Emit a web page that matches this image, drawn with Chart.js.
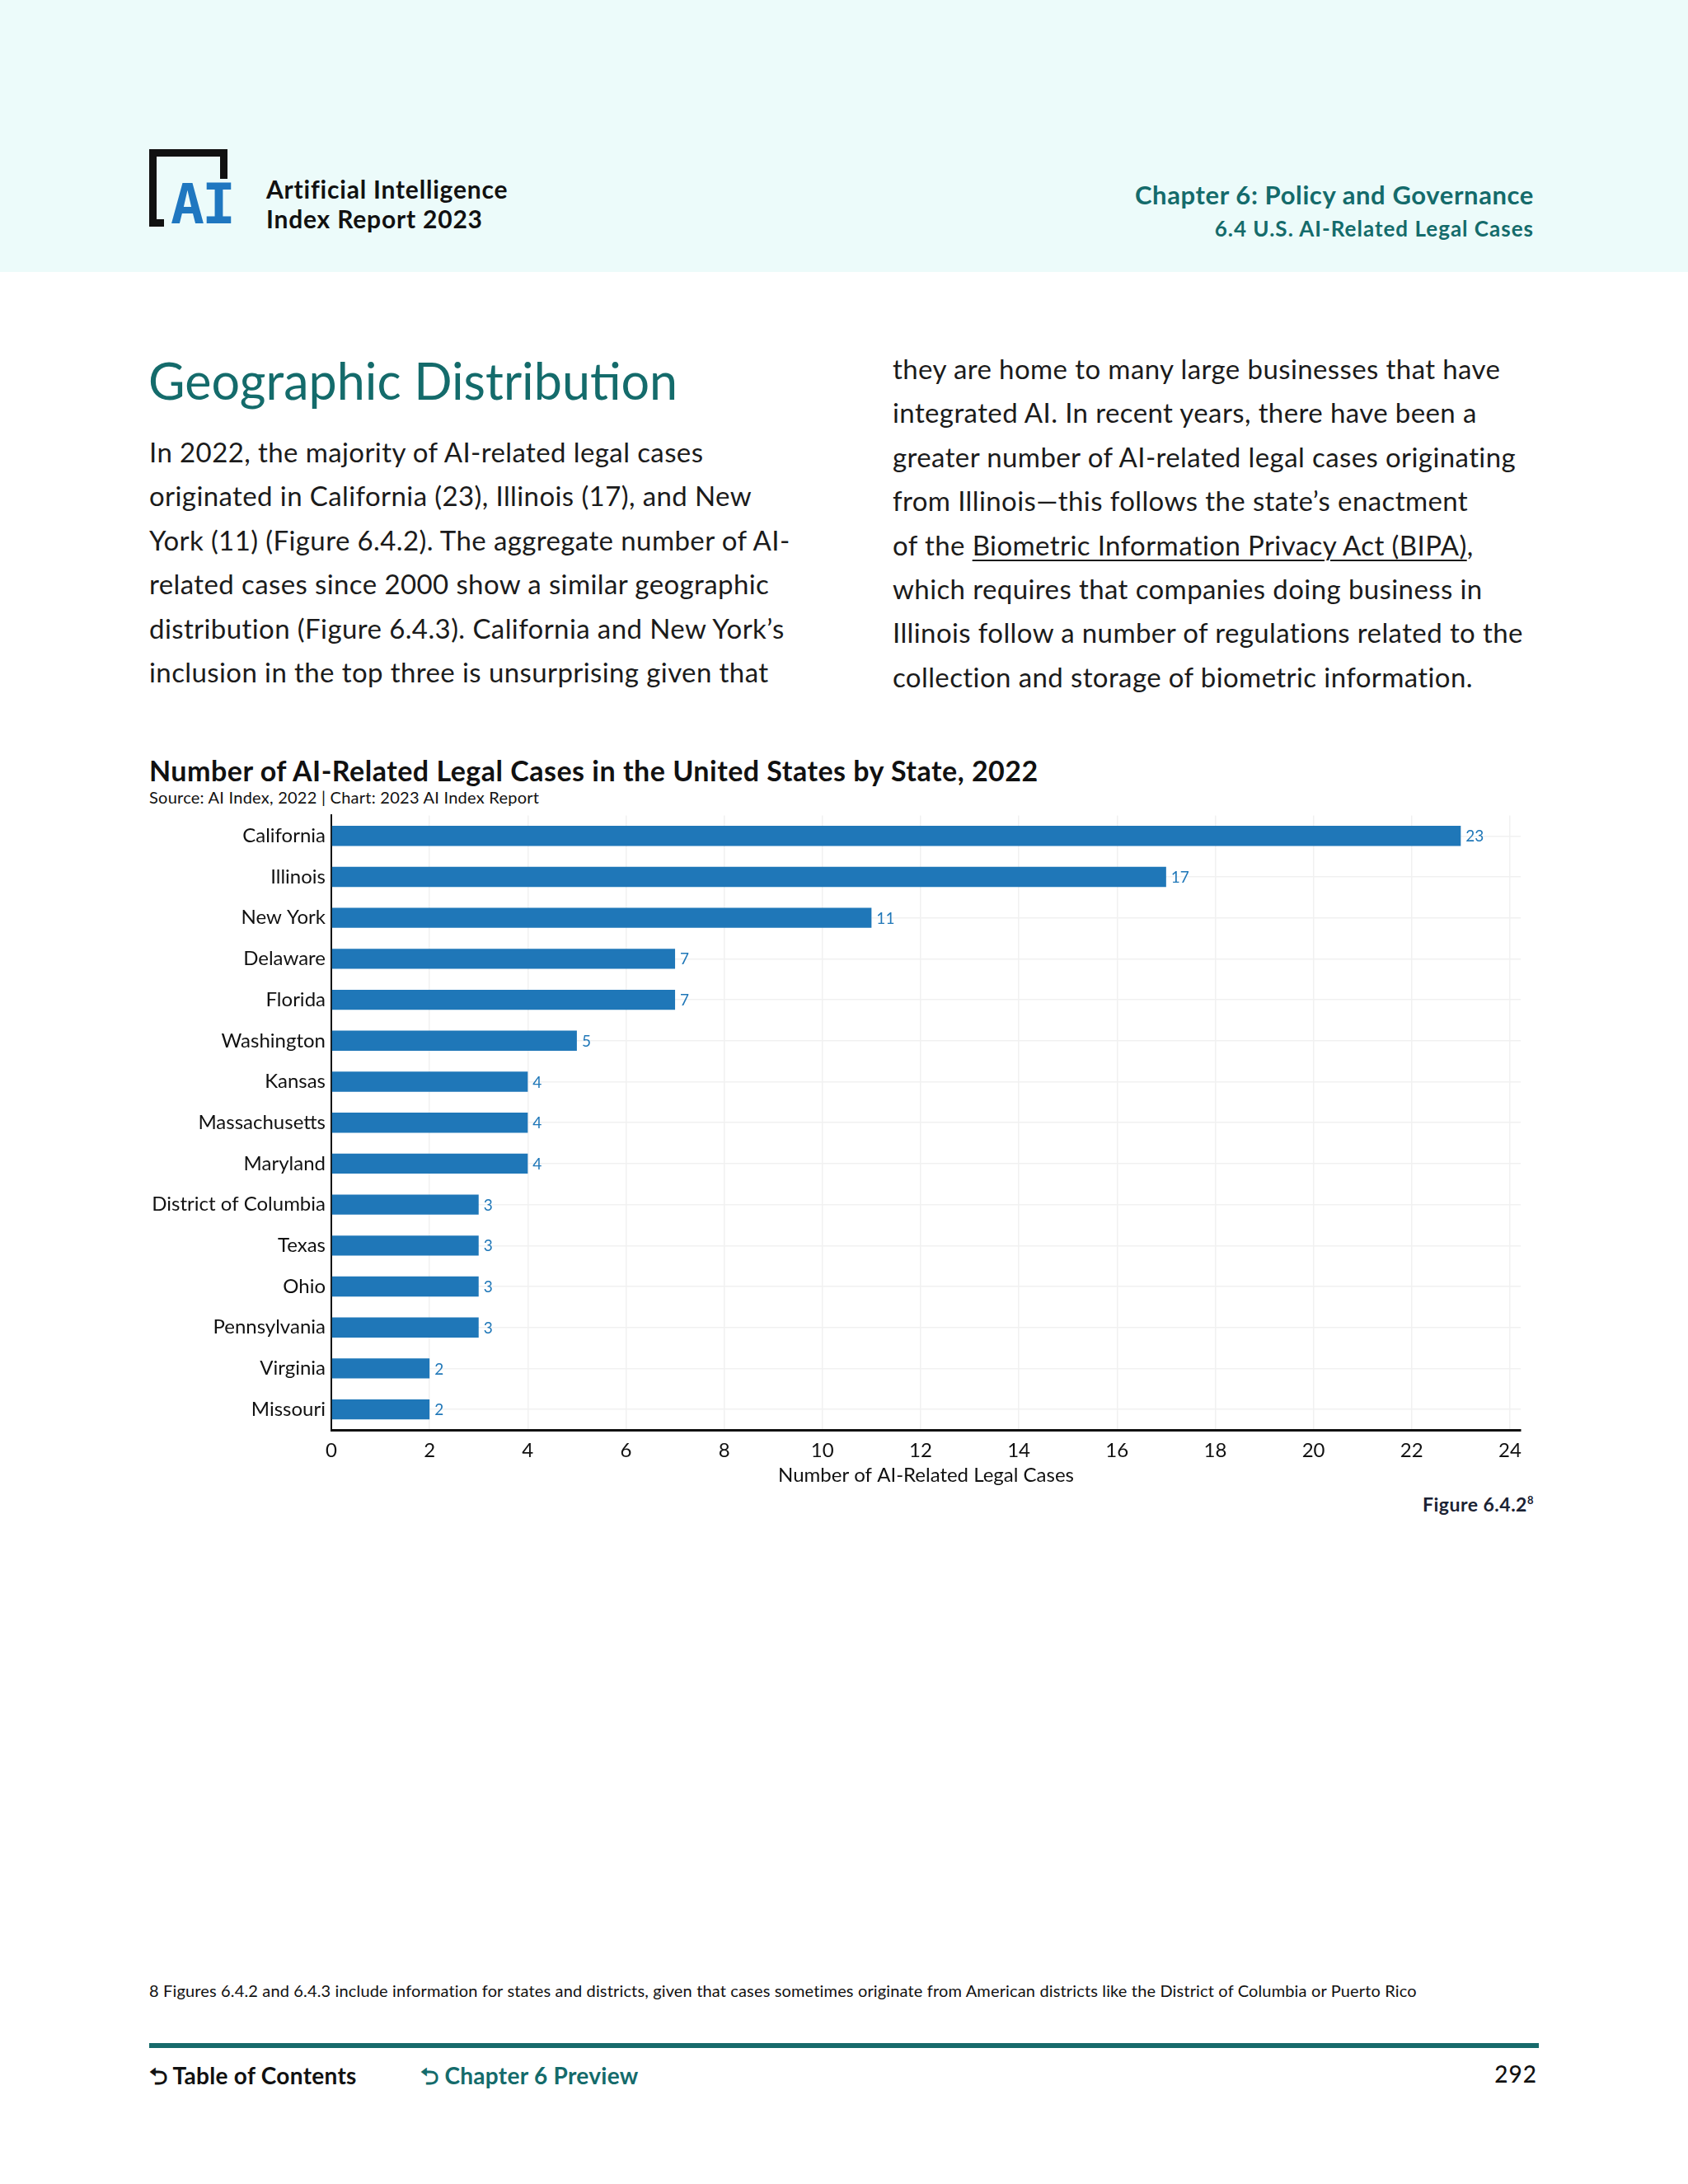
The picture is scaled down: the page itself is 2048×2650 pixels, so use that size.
<!DOCTYPE html>
<html>
<head>
    <title>AI-Related Legal Cases by State, 2022</title>
    <script src="https://cdn.jsdelivr.net/npm/chart.js"></script>
    <style>
        body {
            margin: 0;
            width: 2048px;
            height: 2650px;
            position: relative;
            background: #fff;
            font-family: 'Lato', sans-serif;
            color: #1b1b1b;
            overflow: hidden;
        }
        .band {
            position: absolute;
            left: 0; top: 0;
            width: 2048px; height: 330px;
            background: #ecfbfa;
        }
        .abs { position: absolute; white-space: nowrap; }
        .logo-bar { position: absolute; background: #111; }
        .brand { left: 323px; top: 211px; font-size: 30px; letter-spacing: 0.8px; font-weight: 700; line-height: 36px; color: #111; }
        .chap { right: 187px; top: 217px; font-size: 31px; letter-spacing: 0.6px; font-weight: 700; color: #146b6b; text-align: right; }
        .sub { right: 187px; top: 261px; font-size: 26px; letter-spacing: 1px; font-weight: 700; color: #146b6b; text-align: right; }
        .h1 { left: 180px; top: 425px; font-size: 61px; color: #146b6b; }
        .para { font-size: 33px; letter-spacing: 0.4px; line-height: 53.4px; color: #1b1b1b; }
        .para u { text-decoration-thickness: 2px; text-underline-offset: 5px; }
        .ctitle { left: 181px; top: 914px; font-size: 34px; letter-spacing: 0.5px; font-weight: 700; color: #111; }
        .csrc { left: 181px; top: 955px; font-size: 20px; letter-spacing: 0.25px; color: #111; }
        #wrap { position: absolute; left: 170px; top: 968px; width: 1690px; height: 837px; }
        .fig { right: 187px; top: 1811px; font-size: 23px; letter-spacing: 0.5px; font-weight: 700; color: #1a2233; }
        .fig sup { font-size: 13px; }
        .note { left: 181px; top: 2403px; font-size: 20px; letter-spacing: 0.15px; color: #111; }
        .rule { position: absolute; left: 181px; top: 2479px; width: 1686px; height: 6px; background: #176a6b; }
        .foot { top: 2499px; font-size: 28px; letter-spacing: 0.3px; font-weight: 700; }
    </style>
</head>
<body>
    <div class="band"></div>

    <!-- logo -->
    <div class="logo-bar" style="left:181px; top:181px; width:9px; height:94px;"></div>
    <div class="logo-bar" style="left:181px; top:181px; width:95px; height:9px;"></div>
    <div class="logo-bar" style="left:267px; top:181px; width:9px; height:36px;"></div>
    <div class="logo-bar" style="left:181px; top:266px; width:18px; height:9px;"></div>
    <div class="abs" style="left:207px; top:214px; font-family:'DejaVu Sans Mono', monospace; font-weight:700; font-size:68px; line-height:68px; color:#1f77c0; letter-spacing:-3px;">AI</div>

    <div class="abs brand">Artificial Intelligence<br>Index Report 2023</div>
    <div class="abs chap">Chapter 6: Policy and Governance</div>
    <div class="abs sub">6.4 U.S. AI-Related Legal Cases</div>

    <div class="abs h1">Geographic Distribution</div>
    <div class="abs para" style="left:181px; top:522px;">
        In 2022, the majority of AI-related legal cases<br>
        originated in California (23), Illinois (17), and New<br>
        York (11) (Figure 6.4.2). The aggregate number of AI-<br>
        related cases since 2000 show a similar geographic<br>
        distribution (Figure 6.4.3). California and New York’s<br>
        inclusion in the top three is unsurprising given that
    </div>
    <div class="abs para" style="left:1083px; top:421px;">
        they are home to many large businesses that have<br>
        integrated AI. In recent years, there have been a<br>
        greater number of AI-related legal cases originating<br>
        from Illinois—this follows the state’s enactment<br>
        of the <u>Biometric Information Privacy Act (BIPA)</u>,<br>
        which requires that companies doing business in<br>
        Illinois follow a number of regulations related to the<br>
        collection and storage of biometric information.
    </div>

    <div class="abs ctitle">Number of AI-Related Legal Cases in the United States by State, 2022</div>
    <div class="abs csrc">Source: AI Index, 2022 | Chart: 2023 AI Index Report</div>

    <div id="wrap"><canvas id="casesChart"></canvas></div>

    <div class="abs fig">Figure 6.4.2<sup>8</sup></div>

    <div class="abs note">8 Figures 6.4.2 and 6.4.3 include information for states and districts, given that cases sometimes originate from American districts like the District of Columbia or Puerto Rico</div>
    <div class="rule"></div>
    <div class="abs foot" style="left:181px; color:#111;">&#x2B8C; Table of Contents</div>
    <div class="abs foot" style="left:510px; color:#146b6b;">&#x2B8C; Chapter 6 Preview</div>
    <div class="abs foot" style="right:183px; font-weight:500; letter-spacing:1px; color:#111;">292</div>

    <script>
        // data
        const states = ['California', 'Illinois', 'New York', 'Delaware', 'Florida', 'Washington', 'Kansas',
            'Massachusetts', 'Maryland', 'District of Columbia', 'Texas', 'Ohio', 'Pennsylvania', 'Virginia', 'Missouri'];
        const cases = [23, 17, 11, 7, 7, 5, 4, 4, 4, 3, 3, 3, 3, 2, 2];
        const xTicks = [0, 2, 4, 6, 8, 10, 12, 14, 16, 18, 20, 22, 24];

        const barBlue = '#1f77b8';
        const labelFont = { family: 'Lato', size: 24 };

        // value labels at the end of each bar
        const valueLabels = {
            id: 'valueLabels',
            afterDatasetsDraw(chart) {
                const ctx = chart.ctx;
                const meta = chart.getDatasetMeta(0);
                ctx.save();
                ctx.fillStyle = barBlue;
                ctx.font = '19px Lato';
                ctx.textBaseline = 'middle';
                meta.data.forEach((bar, i) => {
                    ctx.fillText(cases[i], bar.x + 6, bar.y + 1);
                });
                ctx.restore();
            }
        };

        new Chart(document.getElementById('casesChart'), {
            type: 'bar',
            data: {
                labels: states,
                datasets: [{
                    data: cases,
                    backgroundColor: barBlue,
                    categoryPercentage: 1,
                    barPercentage: 0.49
                }]
            },
            plugins: [valueLabels],
            options: {
                indexAxis: 'y',
                responsive: true,
                maintainAspectRatio: false,
                animation: false,
                layout: { padding: { top: 5, right: 15, left: 0, bottom: 0 } },
                plugins: {
                    legend: { display: false },
                    tooltip: { enabled: false }
                },
                scales: {
                    x: {
                        min: 0,
                        max: 24.22,
                        afterBuildTicks(scale) {
                            scale.ticks = xTicks.map(v => ({ value: v }));
                        },
                        ticks: { color: '#111', font: labelFont, padding: 11 },
                        grid: { color: '#f1f1f1', lineWidth: 1.5, drawTicks: false },
                        border: { color: '#111', width: 3 },
                        title: {
                            display: true,
                            text: 'Number of AI-Related Legal Cases',
                            color: '#111',
                            font: labelFont,
                            padding: { top: 0, bottom: 0 }
                        },
                        afterFit(scale) { scale.height = 70; }
                    },
                    y: {
                        ticks: { color: '#111', font: labelFont, padding: 7 },
                        grid: { color: '#f1f1f1', lineWidth: 1.5, offset: false, drawTicks: false },
                        border: { color: '#111', width: 2 },
                        afterFit(scale) { scale.width = 232; }
                    }
                }
            }
        });
    </script>
</body>
</html>
